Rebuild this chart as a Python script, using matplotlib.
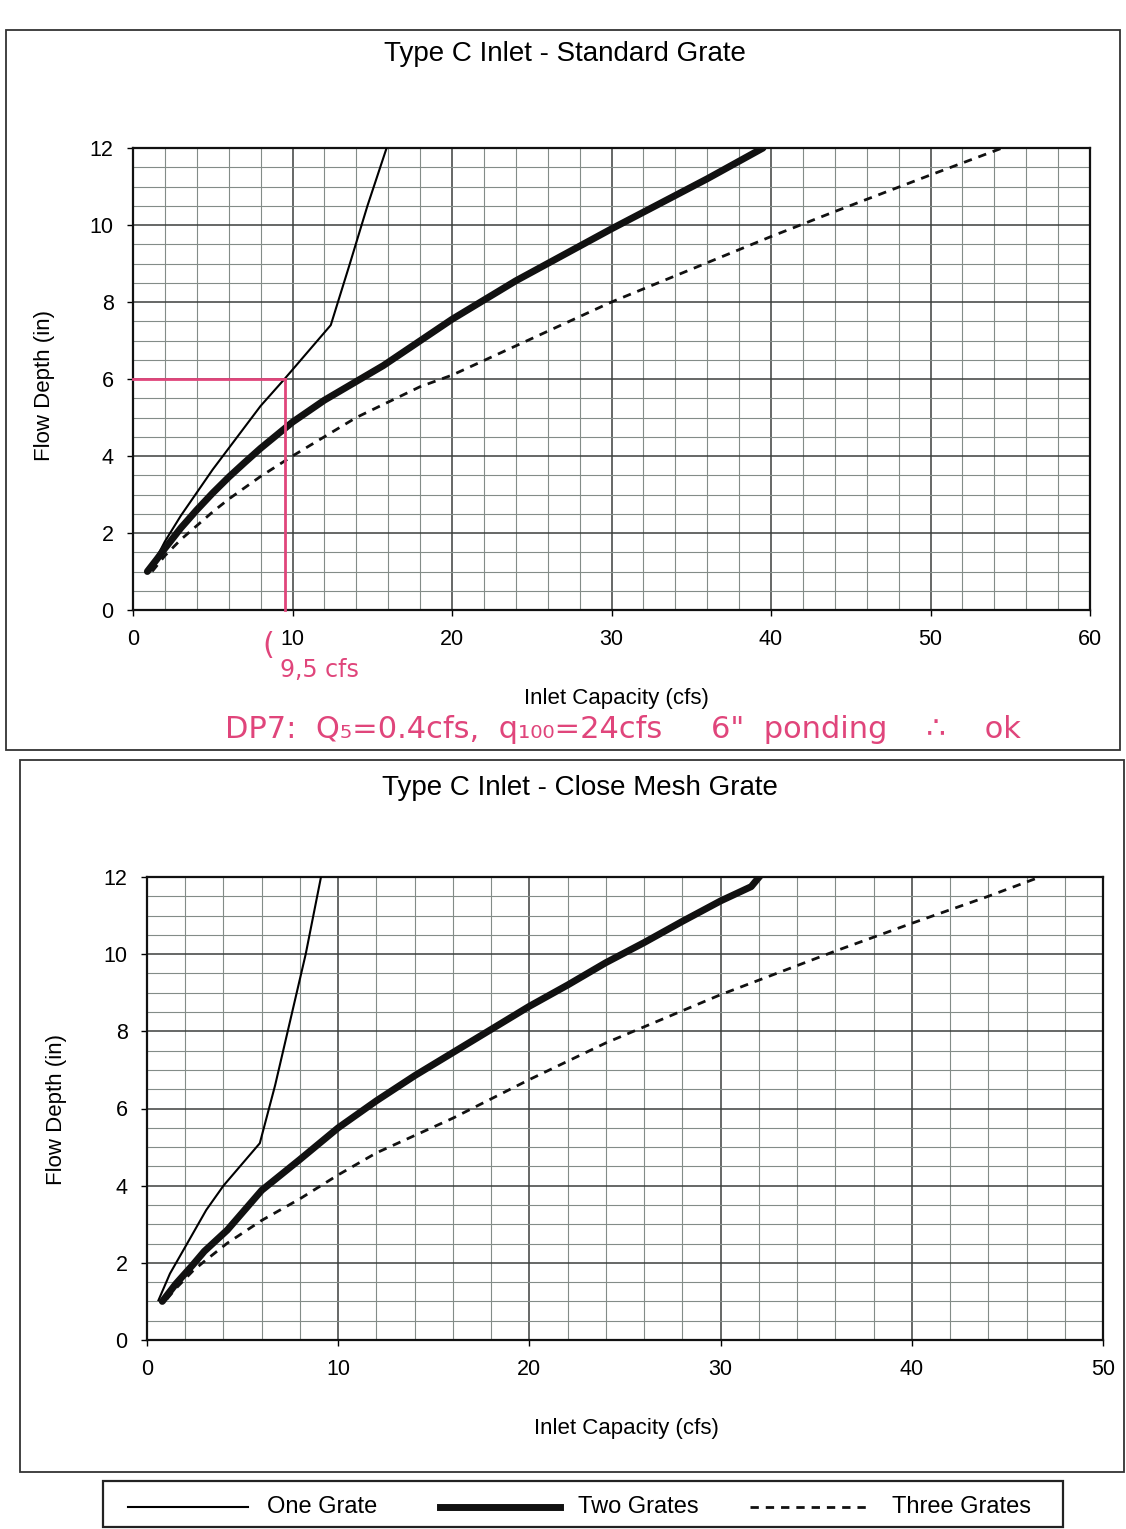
import matplotlib
matplotlib.use("Agg")
import matplotlib.pyplot as plt
from matplotlib.patches import Rectangle
from matplotlib.lines import Line2D
import numpy as np

plt.rcParams['font.family'] = ['Liberation Sans', 'DejaVu Sans']

# ---------------- data ----------------
# Standard grate
std_one_x = [0.9, 1.5, 2, 3, 4, 5, 6, 7, 8, 9.5, 12.4, 13.6, 14.7, 15.9]
std_one_y = [1.0, 1.38, 1.78, 2.45, 3.05, 3.65, 4.2, 4.75, 5.3, 6.0, 7.4, 9.0, 10.5, 12.0]
std_two_x = [0.9, 1.5, 2, 3, 4, 5, 6, 7, 8, 10, 12, 15.7, 20, 24, 30, 36, 39.5]
std_two_y = [1.0, 1.32, 1.6, 2.13, 2.6, 3.04, 3.45, 3.83, 4.2, 4.88, 5.45, 6.35, 7.55, 8.55, 9.9, 11.2, 12.0]
std_three_x = [1.2, 2, 3, 4, 5, 6, 8, 10, 14, 18, 20, 30, 40, 44, 50, 54.5]
std_three_y = [1.0, 1.41, 1.83, 2.19, 2.55, 2.88, 3.47, 4.0, 5.0, 5.8, 6.1, 8.0, 9.7, 10.35, 11.3, 12.0]

# Close mesh grate
cm_one_x = [0.6, 1.2, 2.1, 3.1, 4.0, 5.9, 6.7, 7.5, 8.3, 9.1]
cm_one_y = [1.03, 1.72, 2.5, 3.37, 4.0, 5.1, 6.6, 8.3, 10.0, 12.0]
cm_two_x = [0.8, 1.5, 2.4, 3, 4.2, 6, 8, 10, 12, 14, 16, 18, 20, 22, 24, 26, 28, 30, 31.6, 32.1]
cm_two_y = [1.0, 1.45, 1.95, 2.3, 2.85, 3.88, 4.68, 5.5, 6.2, 6.85, 7.45, 8.05, 8.65, 9.2, 9.78, 10.3, 10.85, 11.38, 11.75, 12.05]
cm_three_x = [1.04, 1.5, 2.4, 3, 4.2, 6, 8, 10, 12, 14, 16, 20, 24, 30, 36, 40, 44, 46.7]
cm_three_y = [1.06, 1.33, 1.79, 2.04, 2.51, 3.1, 3.66, 4.28, 4.85, 5.3, 5.75, 6.75, 7.7, 8.95, 10.08, 10.8, 11.5, 12.0]

# hand annotation (standard grate): 6 in depth -> 9.5 cfs
ann_depth = 6.0
ann_flow = 9.5

titles = ["Type C Inlet - Standard Grate", "Type C Inlet - Close Mesh Grate"]
x_max = [60, 50]
x_ticks = [list(range(0, 61, 10)), list(range(0, 51, 10))]
y_ticks = list(range(0, 13, 2))
legend_labels = ["One Grate", "Two Grates", "Three Grates"]

# ---------------- figure ----------------
W, H = 1126, 1529
fig = plt.figure(figsize=(W / 100, H / 100), dpi=100)
fig.patch.set_facecolor('white')

def fx(px):
    return px / W

def fy(py):
    return 1 - py / H

# panel borders
for (x0, y0, x1, y1) in [(6, 30, 1120, 750), (20, 760, 1124, 1472)]:
    fig.patches.append(Rectangle((fx(x0), fy(y1)), fx(x1) - fx(x0), fy(y0) - fy(y1),
                                 transform=fig.transFigure, fill=False,
                                 edgecolor='#333333', linewidth=1.3))

ax_boxes = [(133, 148, 1090, 610), (147, 877, 1103, 1340)]
styles = dict(
    one=dict(color='black', linewidth=1.5, linestyle='-'),
    two=dict(color='#111111', linewidth=5.0, linestyle='-', solid_capstyle='round',
             solid_joinstyle='round'),
    three=dict(color='#111111', linewidth=2.0, linestyle=(0, (3, 2.5))),
)

series = [
    (std_one_x, std_one_y, std_two_x, std_two_y, std_three_x, std_three_y),
    (cm_one_x, cm_one_y, cm_two_x, cm_two_y, cm_three_x, cm_three_y),
]

axes = []
for i, (l, t, r, b) in enumerate(ax_boxes):
    ax = fig.add_axes([fx(l), fy(b), fx(r) - fx(l), fy(t) - fy(b)])
    axes.append(ax)
    ax.set_xlim(0, x_max[i])
    ax.set_ylim(0, 12)
    ax.set_xticks(x_ticks[i])
    ax.set_yticks(y_ticks)
    ax.set_xticks(np.arange(0, x_max[i] + 0.1, 2), minor=True)
    ax.set_yticks(np.arange(0, 12.1, 0.5), minor=True)
    ax.grid(which='minor', color='#838c88', linewidth=0.8)
    ax.grid(which='major', color='#3c3f3d', linewidth=1.1)
    ax.tick_params(which='minor', length=0)
    ax.tick_params(which='major', length=4, width=1.0, direction='out',
                   labelsize=15.5, pad=10, colors='black')
    for s in ax.spines.values():
        s.set_linewidth(1.6)
        s.set_color('#111111')
    ax.set_axisbelow(True)

    ox, oy, tx, ty, hx, hy = series[i]
    ax.plot(ox, oy, **styles['one'], zorder=4)
    ax.plot(tx, ty, **styles['two'], zorder=4)
    ax.plot(hx, hy, **styles['three'], zorder=4)

    ax.set_xlabel("Inlet Capacity (cfs)", fontsize=16)
    ax.set_ylabel("Flow Depth (in)", fontsize=16)
    if i == 0:
        ax.xaxis.set_label_coords(0.505, -0.168)
        ax.yaxis.set_label_coords(-0.0815, 0.487)
    else:
        ax.xaxis.set_label_coords(0.502, -0.168)
        ax.yaxis.set_label_coords(-0.0837, 0.497)

# titles
fig.text(fx(565), fy(54), titles[0], ha='center', va='center', fontsize=20)
fig.text(fx(580), fy(788), titles[1], ha='center', va='center', fontsize=20)

# red hand annotation on top chart
red = '#e0457b'
ax0 = axes[0]
ax0.plot([0, ann_flow], [ann_depth, ann_depth], color=red, linewidth=2.0, zorder=5, clip_on=False)
ax0.plot([ann_flow, ann_flow], [ann_depth, 0], color=red, linewidth=2.0, zorder=5, clip_on=False)
fig.text(fx(268), fy(645), "(", color=red, fontsize=22, ha='center', va='center',
         family=['DejaVu Sans'])
fig.text(fx(280), fy(670), "9,5 cfs", color=red, fontsize=17, ha='left', va='center',
         family=['DejaVu Sans'])
fig.text(fx(225), fy(730), "DP7:  Q\u2085=0.4cfs,  q\u2081\u2080\u2080=24cfs     6\"  ponding    \u2234    ok",
         color=red, fontsize=22, ha='left', va='center', family=['DejaVu Sans'])

# legend box
lx0, ly0, lx1, ly1 = 103, 1481, 1063, 1527
fig.patches.append(Rectangle((fx(lx0), fy(ly1)), fx(lx1) - fx(lx0), fy(ly0) - fy(ly1),
                             transform=fig.transFigure, fill=False,
                             edgecolor='#222222', linewidth=1.6))
ly = fy(1507)
for (x0, x1, xt, key, lab) in [(128, 248, 267, 'one', legend_labels[0]),
                               (440, 560, 578, 'two', legend_labels[1]),
                               (750, 870, 892, 'three', legend_labels[2])]:
    st = dict(styles[key])
    st.pop('solid_capstyle', None)
    st.pop('solid_joinstyle', None)
    fig.lines.append(Line2D([fx(x0), fx(x1)], [ly, ly], transform=fig.transFigure, **st))
    fig.text(fx(xt), ly, lab, ha='left', va='center', fontsize=17)

fig.savefig("out.png", dpi=100, facecolor='white')
